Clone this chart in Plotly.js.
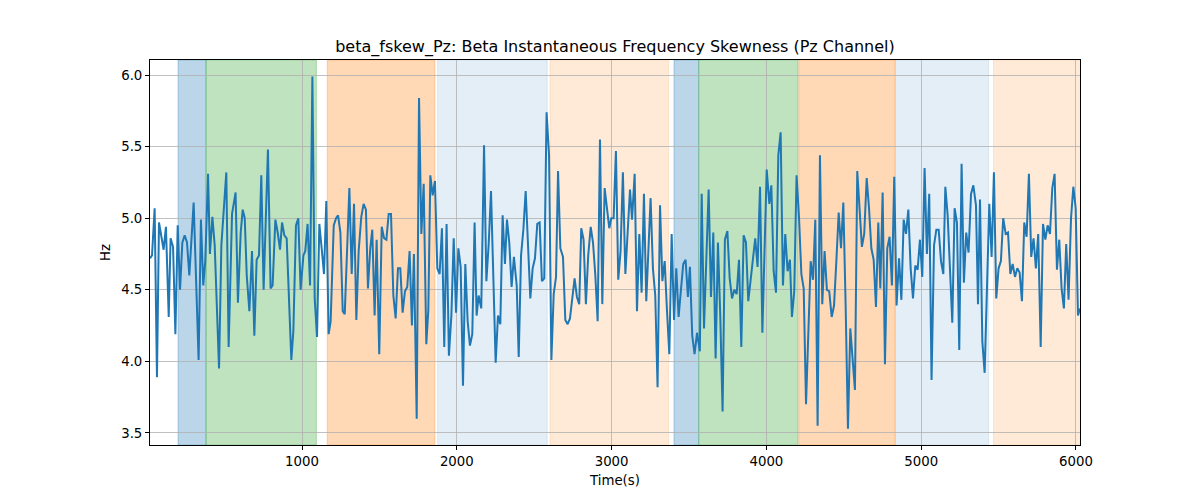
<!DOCTYPE html>
<html>
<head>
<meta charset="utf-8">
<script src="https://cdn.plot.ly/plotly-3.0.1.min.js"></script>
<style>html,body{margin:0;padding:0;background:#fff;}#chart{width:1200px;height:500px;}</style>
</head>
<body>
<div id="chart"></div>
<script>
// Time (s) of each sample
const timeSec = [
 18,31,48,63,76,91,106,121,139,151,167,182,197,212,227,242,257,272,300,332,347,362,375,393,405,421,436,464,479,511,526,548,571,586,604,
 617,630,643,660,677,692,707,722,737,752,780,797,810,828,843,858,871,886,901,931,944,961,976,991,1009,1021,1036,1052,1067,1082,1097,1112,1127,1142,1157,1172,1185,
 1205,1220,1233,1248,1263,1276,1291,1306,1321,1336,1351,1366,1383,1398,1413,1426,1441,1454,1469,1482,1499,1515,1530,1545,1560,1575,1590,1605,1620,1635,1650,1665,1680,1695,1710,1723,1741,1756,1771,1786,
 1803,1816,1829,1844,1859,1874,1889,1904,1919,1934,1949,1965,1980,1995,2010,2025,2040,2055,2070,2085,2100,2115,2128,2141,2158,2176,2191,2206,2221,2236,2251,2266,2281,2296,2311,2324,2339,2354,2369,2387,
 2400,2415,2430,2445,2460,2475,2490,2505,2520,2535,2550,2565,2580,2596,2611,2626,2641,2654,2669,2686,2701,2716,2731,2746,2761,2776,2791,2804,2819,2834,2849,2865,2880,2895,2910,2925,2940,2955,2970,
 2985,2998,3013,3028,3043,3058,3073,3089,3104,3119,3132,3149,3164,3179,3194,3209,3224,3239,3252,3267,3282,3297,3313,3328,3343,3358,3373,3388,3403,3418,3433,3448,3463,3478,3493,3506,3521,3536,3552,
 3570,3582,3597,3612,3627,3642,3657,3672,3687,3702,3717,3732,3748,3763,3778,3793,3808,3823,3838,3853,3868,3883,3898,3913,3928,3943,3959,3974,3989,4002,4019,4032,4047,4062,4077,4092,4107,4122,4137,4152,
 4165,4180,4195,4211,4226,4241,4256,4271,4286,4301,4316,4331,4346,4361,4376,4391,4406,4422,4437,4452,4467,4482,4497,4512,4527,4542,4557,4572,4587,4602,4617,4632,4648,4663,4678,4693,4708,4723,4736,4751,
 4766,4781,4796,4811,4826,4841,4857,4872,4887,4902,4917,4932,4947,4962,4977,4992,5007,5022,5037,5052,5067,5083,5098,5113,5128,5143,5156,5171,5186,5201,5216,5231,5246,5261,5276,5291,5306,5322,5337,
 5354,5367,5380,5395,5410,5425,5440,5455,5470,5485,5500,5515,5530,5546,5561,5576,5591,5606,5621,5636,5651,5666,5681,5696,5711,5726,5741,5756,5772,5787,5802,5817,5832,5847,5862,5877,5892,5907,5922,5937,5952,5968,5983,5998,6013,6026
];
// Beta instantaneous frequency skewness, Pz channel (Hz)
const skewHz = [
 4.72,4.74,5.07,3.89,4.97,4.88,4.78,4.94,4.31,4.86,4.80,4.19,4.95,4.50,4.83,4.88,4.83,4.60,5.11,4.01,4.99,4.53,4.70,5.31,4.75,5.01,4.81,3.95,4.81,5.32,4.10,5.03,5.18,4.41,4.90,
 5.06,5.00,4.60,4.35,4.77,4.18,4.71,4.74,5.30,4.50,5.48,4.51,4.53,4.99,4.90,4.78,4.97,4.88,4.86,4.01,4.21,4.95,5.00,4.50,4.74,4.77,4.96,4.53,5.99,4.44,4.17,4.96,4.79,4.61,5.12,4.19,4.28,
 4.95,5.00,5.02,4.90,4.35,4.33,4.73,5.21,4.61,5.10,4.29,4.77,5.01,5.10,5.06,4.51,4.79,4.92,4.32,4.85,4.05,4.94,4.86,4.85,5.03,5.03,4.46,4.30,4.65,4.65,4.34,4.49,4.52,4.77,4.25,4.75,3.60,5.84,4.89,5.24,
 4.12,4.36,5.30,5.16,5.26,4.65,4.61,4.93,4.10,4.96,4.04,4.32,4.86,4.34,4.79,4.66,3.83,4.68,4.28,4.11,4.19,4.97,4.32,4.46,4.37,5.51,4.56,4.82,5.19,4.60,3.99,4.32,4.26,5.02,4.68,4.99,4.83,4.52,4.73,4.53,
 4.03,4.74,4.92,5.19,4.83,4.44,4.65,4.72,4.96,4.97,4.56,4.58,5.74,5.44,4.01,4.47,4.59,5.33,4.79,4.73,4.29,4.26,4.30,4.46,4.58,4.45,4.40,4.93,4.85,4.40,4.74,4.94,4.83,4.60,4.28,5.55,4.40,5.21,5.08,
 4.93,5.00,5.00,5.47,4.57,4.77,5.32,4.61,4.93,5.20,4.99,5.31,4.35,4.89,4.48,5.17,4.42,4.77,5.14,4.65,4.46,3.82,5.09,4.56,4.70,4.35,4.05,4.89,4.29,4.65,4.31,4.50,4.68,4.71,4.45,4.66,4.18,4.05,4.20,
 4.07,5.17,4.23,4.65,5.20,4.45,4.90,4.02,4.83,4.32,3.65,4.85,4.91,4.58,4.44,4.50,4.47,4.71,4.10,4.88,4.83,4.42,4.58,4.73,4.86,4.66,5.22,4.20,4.93,5.34,5.10,5.23,4.63,4.48,5.44,5.60,4.53,4.89,4.63,4.71,
 4.31,4.49,5.30,5.00,4.61,4.51,3.70,4.21,4.70,4.57,4.99,3.55,5.44,4.40,4.77,4.50,4.49,4.31,4.39,4.70,5.04,4.79,5.11,4.39,3.53,4.23,4.04,3.80,5.33,5.10,4.80,4.89,5.28,5.07,4.79,4.71,4.38,4.97,4.51,5.18,
 3.98,4.79,4.87,4.53,5.29,4.39,4.72,4.43,4.99,4.89,5.06,4.65,4.44,4.67,4.64,4.85,4.59,5.35,4.75,5.17,3.87,4.81,4.92,4.92,4.70,4.61,5.22,5.02,4.63,4.27,5.07,4.97,4.08,5.38,4.55,4.90,4.76,5.17,5.23,
 5.09,4.40,5.13,4.14,3.92,4.51,5.10,4.73,5.32,4.44,4.65,4.70,5.00,4.89,4.90,4.61,4.68,4.59,4.65,4.62,4.42,4.97,4.87,5.31,4.73,4.86,4.65,4.89,4.10,4.96,4.85,4.95,4.89,5.21,5.31,4.64,4.85,4.51,4.37,4.82,4.43,5.00,5.22,5.07,4.32,4.37
];
// Shaded phases
const bandStart = [199, 380, 1163, 1876, 2602, 3403, 3563, 4210, 4834, 5467];
const bandEnd   = [380, 1093, 1859, 2584, 3369, 3563, 4204, 4831, 5436, 6040];
const bandKind  = ['A','B','C','D','E','A','B','C','D','E'];

const xRange = [18, 6026];
const yRange = [3.416, 6.105];
const yTicks = [3.5, 4.0, 4.5, 5.0, 5.5, 6.0];
const xTicks = [1000, 2000, 3000, 4000, 5000, 6000];

const kindColor = {
  A: 'rgba(31,119,180,0.3)',
  B: 'rgba(44,160,44,0.3)',
  C: 'rgba(255,127,14,0.3)',
  D: 'rgba(31,119,180,0.12)',
  E: 'rgba(255,127,14,0.16)'
};

const shapes = bandStart.map((s, i) => ({
  type: 'rect', xref: 'x', yref: 'paper', x0: s, x1: bandEnd[i], y0: 0, y1: 1,
  fillcolor: kindColor[bandKind[i]], line: {width: 1, color: kindColor[bandKind[i]]}, layer: 'below'
}));

const trace = {
  x: timeSec, y: skewHz, type: 'scatter', mode: 'lines',
  line: {color: '#1f77b4', width: 2}, hoverinfo: 'skip'
};

const font = {family: 'DejaVu Sans, sans-serif', size: 13.3, color: '#000'};
const layout = {
  width: 1200, height: 500,
  margin: {l: 150, r: 120, t: 60, b: 55},
  paper_bgcolor: '#fff', plot_bgcolor: 'rgba(0,0,0,0)',
  font: font,
  showlegend: false,
  title: {text: 'beta_fskew_Pz: Beta Instantaneous Frequency Skewness (Pz Channel)',
          font: {family: 'DejaVu Sans, sans-serif', size: 16, color: '#000'},
          x: 0.5125, xanchor: 'center', y: 0.908, yanchor: 'middle', yref: 'container'},
  xaxis: {
    range: xRange, tickvals: xTicks, ticktext: xTicks.map(String),
    showgrid: true, gridcolor: '#b0b0b0', gridwidth: 0.8, zeroline: false,
    showline: true, linecolor: '#000', linewidth: 1, mirror: true,
    ticks: 'outside', ticklen: 4, tickcolor: '#000', tickwidth: 1,
    title: {text: 'Time(s)', font: font, standoff: 7}
  },
  yaxis: {
    range: yRange, tickvals: yTicks, ticktext: yTicks.map(v => v.toFixed(1)),
    showgrid: true, gridcolor: '#b0b0b0', gridwidth: 0.8, zeroline: false,
    showline: true, linecolor: '#000', linewidth: 1, mirror: true,
    ticks: 'outside', ticklen: 4, tickcolor: '#000', tickwidth: 1,
    title: {text: 'Hz', font: font, standoff: 7}
  },
  shapes: shapes
};

Plotly.newPlot('chart', [trace], layout, {displayModeBar: false, staticPlot: true});
</script>
</body>
</html>
